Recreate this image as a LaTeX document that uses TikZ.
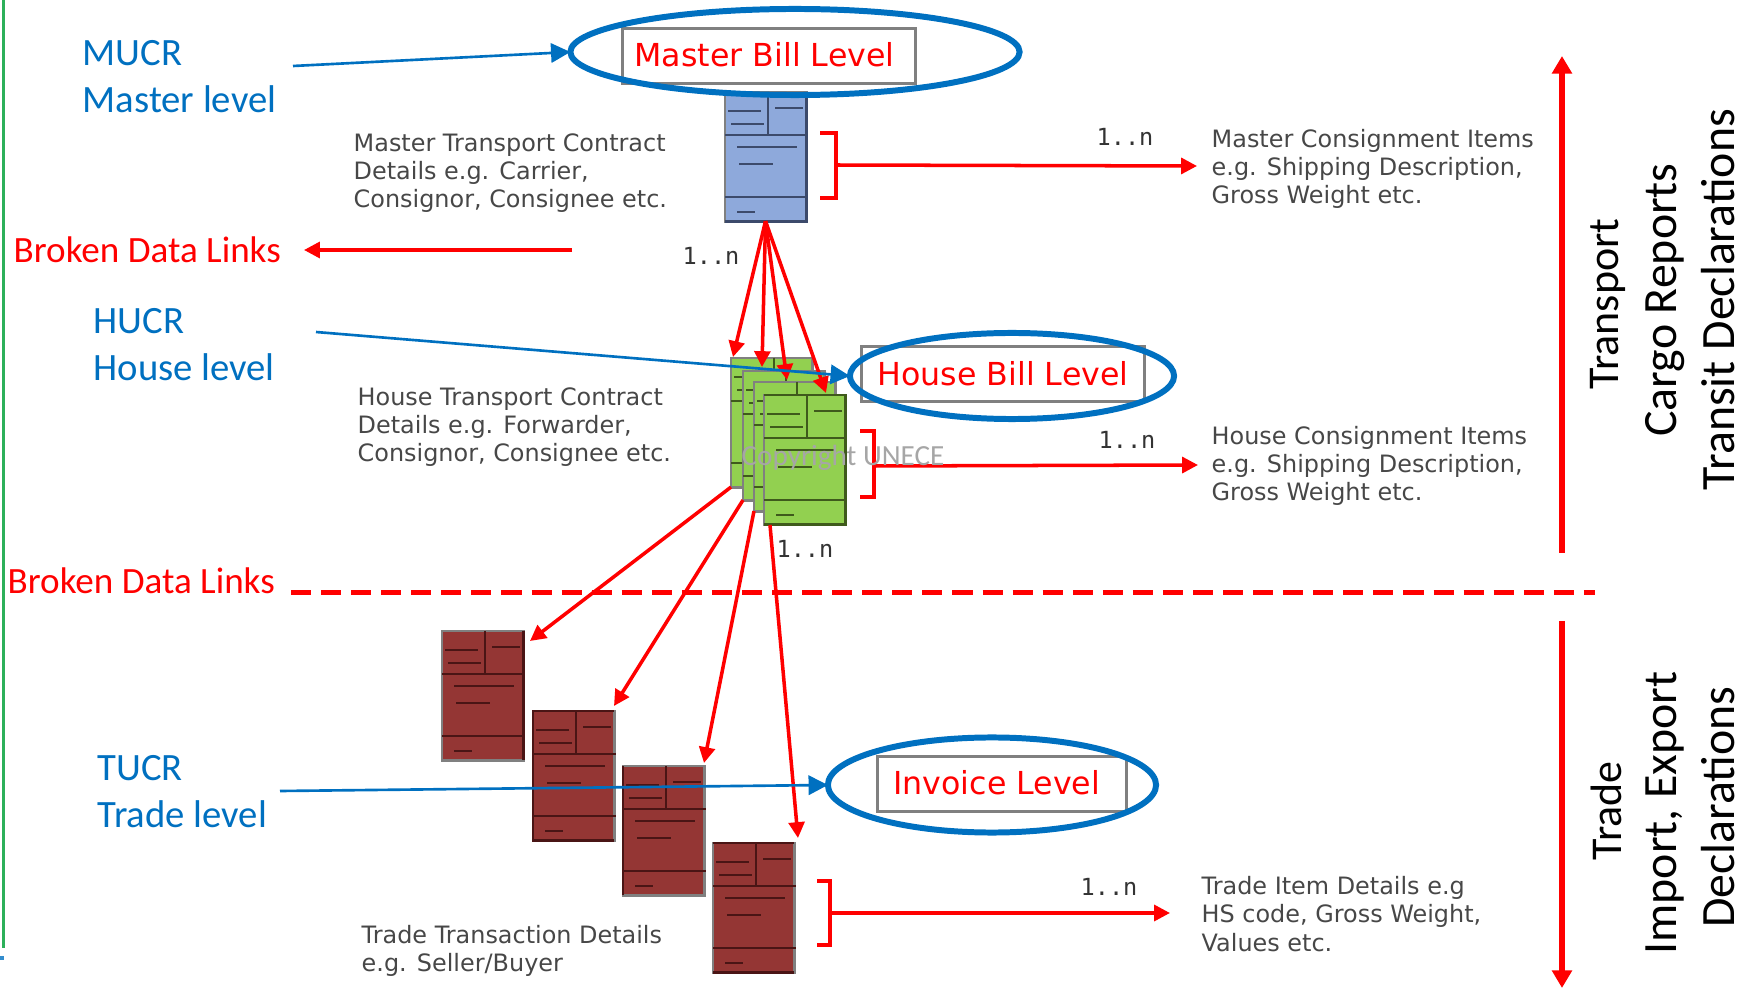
\documentclass[tikz,border=0pt]{standalone}
\usepackage{fontspec}
\setmainfont{Carlito}
\newfontfamily\notefont{DejaVu Sans}
\newfontfamily\countfont{DejaVu Sans Mono}
\usetikzlibrary{arrows.meta,shapes.geometric}

\definecolor{ringblue}{HTML}{0070C0}
\definecolor{formblue}{HTML}{8EA9DB}
\definecolor{darkblue}{HTML}{3C4A6B}
\definecolor{formgreen}{HTML}{92D050}
\definecolor{darkgreen}{HTML}{3F5A1C}
\definecolor{formred}{HTML}{943634}
\definecolor{darkred}{HTML}{4A1515}
\definecolor{marginline}{HTML}{2DB05A}

\tikzset{
  formbase/.style={draw=gray, line width=0.85pt, anchor=north west, inner sep=0pt, outer sep=0pt, minimum width=0.81cm, minimum height=1.29cm},
  levelbox/.style={draw=gray, line width=0.85pt, inner sep=0pt, outer sep=0pt, text=red, font=\notefont\fontsize{9}{10}\selectfont},
  levelring/.style={draw=ringblue, line width=1.7pt, shape=ellipse, inner sep=0pt, outer sep=0pt},
  blueline/.style={draw=ringblue, line width=0.75pt, -{Triangle[length=5.5pt,width=5.5pt]}},
  redline/.style={draw=red, line width=1pt, -{Triangle[length=4.5pt,width=4.5pt]}},
  bracketline/.style={draw=red, line width=1.15pt},
  bigarrow/.style={draw=red, line width=1.6pt, -{Triangle[length=5pt,width=5.5pt]}},
  bluelabel/.style={text=ringblue, anchor=west, align=left, inner sep=0pt, font=\fontsize{11}{13.4}\selectfont},
  redlabel/.style={text=red, anchor=west, inner sep=0pt, font=\fontsize{10.55}{13.4}\selectfont},
  notelabel/.style={text=black!72, anchor=west, align=left, inner sep=0pt, font=\notefont\fontsize{6.8}{8}\selectfont},
  countlabel/.style={text=black!80, inner sep=0pt, font=\countfont\fontsize{6.7}{8}\selectfont},
  sidelabel/.style={rotate=90, inner sep=0pt, font=\fontsize{13.6}{14}\selectfont},
  sidehead/.style={rotate=90, inner sep=0pt, font=\fontsize{12.5}{14}\selectfont}
}

% form with its printed rules, top left corner at #2,#3
\newcommand{\formbox}[5]{%
  \node[formbase, fill=#4] (#1) at (#2,#3) {};
  \begin{scope}[shift={(#2,#3)}, draw=#5]
    \draw[line width=0.8pt] (0,43) -- (83,43);
    \draw[line width=0.8pt] (0,105) -- (83,105);
    \draw[line width=0.8pt] (43,0) -- (43,43);
    \draw[line width=0.6pt] (3,19) -- (36,19);
    \draw[line width=0.6pt] (6,32) -- (39,32);
    \draw[line width=0.6pt] (50,16) -- (78,16);
    \draw[line width=0.6pt] (12,55) -- (72,55);
    \draw[line width=0.6pt] (14,72) -- (48,72);
    \draw[line width=0.6pt] (12,120) -- (30,120);
  \end{scope}}

\begin{document}
\begin{tikzpicture}[x=0.01cm, y=-0.01cm]
  \useasboundingbox (0,0) rectangle (1753,991);

  % Margin
  \draw[draw=marginline, line width=1pt] (3.5,0) -- (3.5,948);
  \draw[draw=ringblue!80, line width=1pt] (0,958) -- (4,958);

  % Forms
  \formbox{fmaster}{725}{92}{formblue}{darkblue}
  \draw[line width=0.85pt, draw=darkblue] (fmaster.north east) -- (fmaster.south east) -- (fmaster.south west);

  \formbox{fhouse1}{731}{358}{formgreen}{darkgreen}
  \formbox{fhouse2}{743}{371}{formgreen}{darkgreen}
  \formbox{fhouse3}{754}{382}{formgreen}{darkgreen}
  \formbox{fhouse4}{764}{395}{formgreen}{darkgreen}
  \draw[line width=0.85pt, draw=darkgreen] (fhouse4.north west) -- (fhouse4.north east) -- (fhouse4.south east) -- (fhouse4.south west);

  \formbox{ftrade1}{442}{631}{formred}{darkred}
  \draw[line width=0.85pt, draw=darkred] (ftrade1.north east) -- (ftrade1.south east);
  \formbox{ftrade2}{533}{711}{formred}{darkred}
  \draw[line width=0.85pt, draw=darkred] (ftrade2.south east) -- (ftrade2.south west) -- (ftrade2.north west) -- (ftrade2.north east);
  \formbox{ftrade3}{623}{766}{formred}{darkred}
  \draw[line width=0.85pt, draw=darkred] (ftrade3.south west) -- (ftrade3.north west);
  \formbox{ftrade4}{713}{843}{formred}{darkred}
  \draw[line width=0.85pt, draw=darkred] (ftrade4.north west) -- (ftrade4.north east);
  \draw[line width=0.85pt, draw=darkred] (ftrade4.south west) -- (ftrade4.south east);

  % Levels
  \node[levelbox, minimum width=2.93cm, minimum height=0.54cm] (bmaster) at (769,56) {\raisebox{0.6pt}{Master Bill Level}\hspace*{2.5pt}};
  \node[levelring, minimum width=4.49cm, minimum height=0.86cm] (rmaster) at (795,52) {};
  \node[levelbox, minimum width=2.83cm, minimum height=0.54cm] (bhouse) at (1003,374) {House Bill Level};
  \node[levelring, minimum width=3.24cm, minimum height=0.86cm] (rhouse) at (1012,376) {};
  \node[levelbox, minimum width=2.49cm, minimum height=0.55cm] (binvoice) at (1002,784) {\raisebox{0.6pt}{Invoice Level}\hspace*{3pt}};
  \node[levelring, minimum width=3.28cm, minimum height=0.95cm] (rinvoice) at (992,785) {};

  % Labels
  \node[bluelabel] (lmucr) at (82,77) {MUCR\\Master level};
  \node[bluelabel] (lhucr) at (93,345) {HUCR\\House level};
  \node[bluelabel] (ltucr) at (97,792) {TUCR\\Trade level};
  \node[redlabel] (lbroken1) at (13,250) {Broken Data Links};
  \node[redlabel] (lbroken2) at (7,581) {Broken Data Links};

  \node[notelabel] (nmaster) at (353,173) {Master Transport Contract\\Details e.g. Carrier,\\Consignor, Consignee etc.};
  \node[notelabel] (nhouse) at (357,427) {House Transport Contract\\Details e.g. Forwarder,\\Consignor, Consignee etc.};
  \node[notelabel] (ntrade) at (361,951) {Trade Transaction Details\\e.g. Seller/Buyer};
  \node[notelabel] (nmasteritem) at (1211,169) {Master Consignment Items\\e.g. Shipping Description,\\Gross Weight etc.};
  \node[notelabel] (nhouseitem) at (1211,466) {House Consignment Items\\e.g. Shipping Description,\\Gross Weight etc.};
  \node[notelabel] (ntradeitem) at (1201,914) {Trade Item Details e.g\\HS code, Gross Weight,\\Values etc.};

  \node[countlabel] (c1) at (1125,137) {1..n};
  \node[countlabel] (c2) at (711,256) {1..n};
  \node[countlabel] (c3) at (1127,440) {1..n};
  \node[countlabel] (c4) at (805,549) {1..n};
  \node[countlabel] (c5) at (1109,887) {1..n};

  \node[sidehead] (stransport) at (1608,304) {Transport};
  \node[sidelabel] (scargo) at (1665,300) {Cargo Reports};
  \node[sidelabel] (stransit) at (1718,300) {Transit Declarations};
  \node[sidehead] (strade) at (1606,811) {Trade};
  \node[sidelabel] (simport) at (1665,813) {Import, Export};
  \node[sidelabel] (sdecl) at (1718,807) {Declarations};

  % Free ends
  \coordinate (amucr) at (293,66);
  \coordinate (ahucr) at (316,332);
  \coordinate (atucr) at (280,791);
  \coordinate (abroken) at (572,250);
  \coordinate (tbroken) at (304,250);
  \coordinate (dleft) at (291,592.5);
  \coordinate (dright) at (1595,592.5);
  \coordinate (vtop) at (1562,56);
  \coordinate (vmid) at (1562,553);
  \coordinate (wmid) at (1562,621);
  \coordinate (wbot) at (1562,988);
  \coordinate (h1) at (733,357);
  \coordinate (h2) at (762,367);
  \coordinate (h3) at (787,380);
  \coordinate (h4) at (826,393);
  \coordinate (t1) at (530,641);
  \coordinate (t2) at (614,706);
  \coordinate (t3) at (704,763);
  \coordinate (t4) at (798,838);
  \coordinate (s4) at (770,525);

  % Brackets
  \coordinate (b1) at (836,165);
  \coordinate (b2) at (874,466);
  \coordinate (b3) at (830,913);
  \coordinate (i1) at (1197,166);
  \coordinate (i2) at (1198,465);
  \coordinate (i3) at (1170,913);
  \draw[bracketline] (820,133) -- (836,133) -- (836,198) -- (820,198);
  \draw[bracketline] (860,431) -- (874,431) -- (874,497) -- (860,497);
  \draw[bracketline] (817,881) -- (830,881) -- (830,945) -- (817,945);
  \draw[redline] (b1) -- (i1);
  \draw[redline] (b2) -- (i2);
  \draw[redline] (b3) -- (i3);

  % Links
  \draw[redline] (fmaster.south) -- (h1);
  \draw[redline] (fmaster.south) -- (h2);
  \draw[redline] (fmaster.south) -- (h3);
  \draw[redline] (fmaster.south) -- (h4);

  \draw[redline] (fhouse1.south west) -- (t1);
  \draw[redline] (fhouse2.south west) -- (t2);
  \draw[redline] (fhouse3.south west) -- (t3);
  \draw[redline] (s4) -- (t4);

  \draw[redline] (abroken) -- (tbroken);
  \draw[draw=red, line width=1.15pt, dash pattern=on 5.7pt off 2.85pt] (dleft) -- (dright);

  \draw[bigarrow] (vmid) -- (vtop);
  \draw[bigarrow] (wmid) -- (wbot);

  \draw[blueline] (amucr) -- (rmaster.west);
  \draw[blueline] (ahucr) -- (rhouse.west);
  \draw[blueline] (atucr) -- (rinvoice.west);

  \node[text=black!35, inner sep=0pt, font=\fontsize{8.3}{9}\selectfont] (wmark) at (843,458) {Copyright UNECE};
\end{tikzpicture}
\end{document}
